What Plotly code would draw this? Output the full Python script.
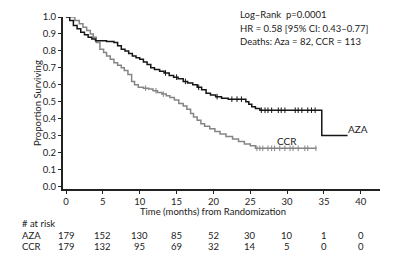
import plotly.graph_objects as go

# ---- data ----
aza_t = [0, 0.5, 1.0, 1.5, 2.0, 2.5, 3.0, 3.5, 4.0, 5.5, 6.5, 7.0, 7.5, 8.0, 8.5, 9.0, 9.5, 10.0,
         10.5, 11.0, 11.5, 12.0, 12.7, 13.3, 14.0, 14.6, 15.2, 15.9, 16.5, 17.2, 17.8, 18.4, 19.0,
         19.6, 20.3, 21.1, 22.0, 24.4, 24.8, 25.2, 25.7, 26.3, 34.7, 38.2]
aza_s = [1.0, 0.98, 0.95, 0.93, 0.91, 0.895, 0.88, 0.87, 0.86, 0.855, 0.85, 0.83, 0.81, 0.80, 0.785,
         0.77, 0.76, 0.75, 0.735, 0.72, 0.70, 0.69, 0.68, 0.67, 0.655, 0.645, 0.635, 0.62, 0.61, 0.60,
         0.585, 0.57, 0.55, 0.54, 0.53, 0.52, 0.515, 0.50, 0.485, 0.47, 0.46, 0.45, 0.30, 0.30]

ccr_t = [0, 1.2, 1.8, 2.3, 2.8, 3.3, 3.7, 4.1, 4.6, 5.1, 5.5, 6.0, 6.5, 7.0, 7.5, 7.9, 8.4, 8.9, 9.3,
         9.8, 10.5, 11.2, 11.8, 12.4, 13.0, 13.6, 14.1, 14.7, 15.3, 15.9, 16.4, 16.9, 17.3, 17.8, 18.3,
         18.8, 19.5, 20.2, 20.9, 21.7, 22.6, 23.4, 24.2, 25.0, 25.7, 34.0]
ccr_s = [1.0, 0.98, 0.96, 0.94, 0.92, 0.90, 0.88, 0.85, 0.81, 0.79, 0.77, 0.75, 0.73, 0.715, 0.70,
         0.685, 0.66, 0.62, 0.60, 0.585, 0.58, 0.575, 0.565, 0.555, 0.545, 0.535, 0.525, 0.51, 0.49,
         0.475, 0.455, 0.43, 0.41, 0.39, 0.37, 0.355, 0.34, 0.325, 0.31, 0.295, 0.28, 0.265, 0.25,
         0.24, 0.225, 0.225]

aza_censor = [13.5, 15.0, 16.2, 18.0, 20.5, 22.5, 23.2, 23.8, 26.5, 27.0, 27.4, 27.9, 28.8, 29.2,
              29.7, 31.1, 31.5, 32.0, 32.8, 33.3, 33.8]
ccr_censor = [10.8, 12.2, 13.2, 25.9, 26.3, 26.7, 27.4, 27.9, 28.3, 29.0, 29.7, 30.4, 30.8, 31.5,
              32.4, 32.8, 33.9]

risk_times = [0, 5, 10, 15, 20, 25, 30, 35, 40]
aza_risk = [179, 152, 130, 85, 52, 30, 10, 1, 0]
ccr_risk = [179, 132, 95, 69, 32, 14, 5, 0, 0]

x_ticks = [0, 5, 10, 15, 20, 25, 30, 35, 40]
y_ticks = [0.0, 0.1, 0.2, 0.3, 0.4, 0.5, 0.6, 0.7, 0.8, 0.9, 1.0]

stats_lines = ["Log\u2013Rank  p=0.0001",
               "HR = 0.58 [95% CI: 0.43\u20130.77]",
               "Deaths: Aza = 82, CCR = 113"]


def step_value(ts, ss, t):
    v = ss[0]
    for ti, si in zip(ts, ss):
        if ti <= t:
            v = si
    return v


FONT = "Lato"
AZA_C = "#151515"
CCR_C = "#858585"

fig = go.Figure()
fig.add_trace(go.Scatter(x=ccr_t, y=ccr_s, mode="lines", line=dict(shape="hv", color=CCR_C, width=1.5),
                         hoverinfo="skip", showlegend=False))
fig.add_trace(go.Scatter(x=aza_t, y=aza_s, mode="lines", line=dict(shape="hv", color=AZA_C, width=1.5),
                         hoverinfo="skip", showlegend=False))
fig.add_trace(go.Scatter(x=ccr_censor, y=[step_value(ccr_t, ccr_s, t) for t in ccr_censor], mode="markers",
                         marker=dict(symbol="line-ns", size=4, line=dict(color=CCR_C, width=1)),
                         hoverinfo="skip", showlegend=False))
fig.add_trace(go.Scatter(x=aza_censor, y=[step_value(aza_t, aza_s, t) for t in aza_censor], mode="markers",
                         marker=dict(symbol="line-ns", size=4, line=dict(color=AZA_C, width=1)),
                         hoverinfo="skip", showlegend=False))

ann = []
fs = 9.5
for i, s in enumerate(stats_lines):
    ann.append(dict(x=0.552, y=1.012 - i * 0.078, xref="paper", yref="paper", text=s, showarrow=False,
                    xanchor="left", yanchor="middle", font=dict(size=fs, color="#222")))
ann.append(dict(x=39.6, y=0.34, xref="x", yref="y", text="AZA", showarrow=False,
                xanchor="center", yanchor="middle", font=dict(size=fs + 0.5, color="#222")))
ann.append(dict(x=30.0, y=0.268, xref="x", yref="y", text="CCR", showarrow=False,
                xanchor="center", yanchor="middle", font=dict(size=fs + 0.5, color="#222")))
ann.append(dict(x=20.0, y=-0.128, xref="x", yref="paper", text="Time (months) from Randomization",
                showarrow=False, xanchor="center", yanchor="middle", font=dict(size=fs, color="#222")))
ann.append(dict(x=-0.082, y=0.5, xref="paper", yref="paper", text="Proportion Surviving", textangle=-90,
                showarrow=False, xanchor="center", yanchor="middle", font=dict(size=fs, color="#222")))
ann.append(dict(x=-0.136, y=-0.198, xref="paper", yref="paper", text="# at risk", showarrow=False,
                xanchor="left", yanchor="middle", font=dict(size=fs, color="#222")))
for lbl, vals, yy in [("AZA", aza_risk, -0.273), ("CCR", ccr_risk, -0.337)]:
    ann.append(dict(x=-0.136, y=yy, xref="paper", yref="paper", text=lbl, showarrow=False,
                    xanchor="left", yanchor="middle", font=dict(size=fs, color="#222")))
    for t, v in zip(risk_times, vals):
        ann.append(dict(x=t, y=yy, xref="x", yref="paper", text=str(v), showarrow=False,
                        xanchor="center", yanchor="middle", font=dict(size=fs, color="#222")))

fig.update_layout(
    width=400, height=264,
    margin=dict(l=63, r=20, t=17, b=75),
    paper_bgcolor="white", plot_bgcolor="white",
    font=dict(family=FONT, size=fs, color="#222"),
    annotations=ann,
    xaxis=dict(range=[-0.41, 42.6], tickvals=x_ticks, ticks="outside", ticklen=3, tickwidth=1,
               tickcolor="#222", showline=True, linecolor="#222", linewidth=2, showgrid=False,
               zeroline=False, tickfont=dict(size=fs), fixedrange=True),
    yaxis=dict(range=[-0.015, 1.0], tickvals=y_ticks, tickformat=".1f", ticks="outside", ticklen=3,
               tickwidth=1, tickcolor="#222", showline=True, linecolor="#222", linewidth=2,
               showgrid=False, zeroline=False, tickfont=dict(size=fs), fixedrange=True),
)

fig.write_html("out.html")
